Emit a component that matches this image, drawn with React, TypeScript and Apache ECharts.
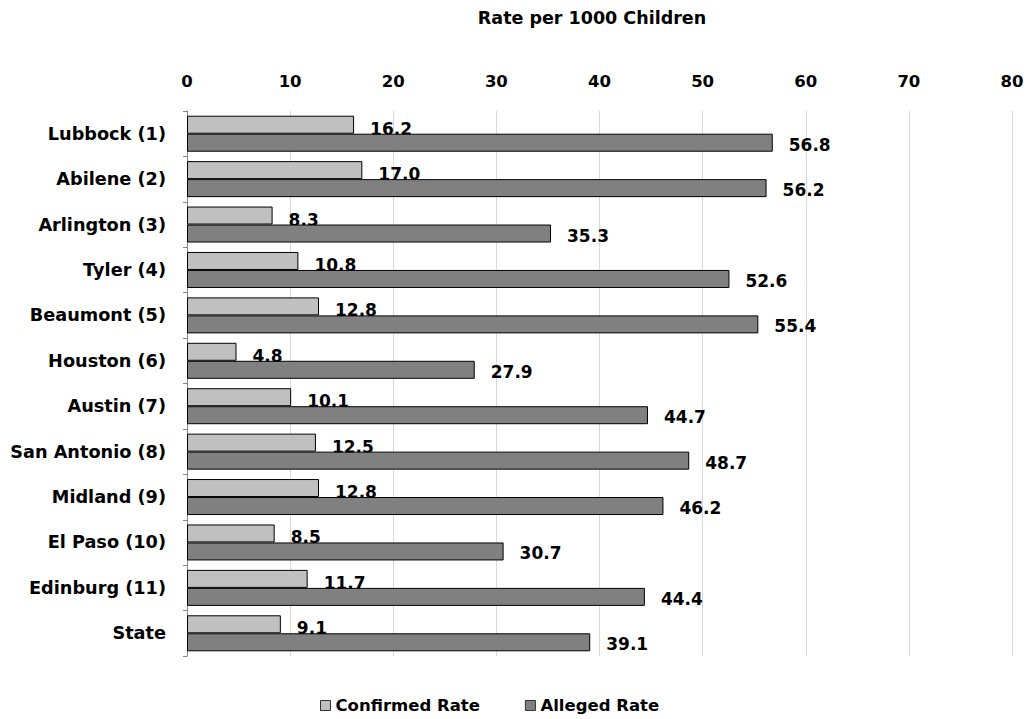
import React, { useEffect, useRef } from "react";
import * as echarts from "echarts";

const categories = [
  "Lubbock (1)",
  "Abilene (2)",
  "Arlington (3)",
  "Tyler (4)",
  "Beaumont (5)",
  "Houston (6)",
  "Austin (7)",
  "San Antonio (8)",
  "Midland (9)",
  "El Paso (10)",
  "Edinburg (11)",
  "State",
];
const confirmedRate = [16.2, 17.0, 8.3, 10.8, 12.8, 4.8, 10.1, 12.5, 12.8, 8.5, 11.7, 9.1];
const allegedRate = [56.8, 56.2, 35.3, 52.6, 55.4, 27.9, 44.7, 48.7, 46.2, 30.7, 44.4, 39.1];
const seriesNames = ["Confirmed Rate", "Alleged Rate"];
const axisTitle = "Rate per 1000 Children";

const FONT = "'DejaVu Sans', sans-serif";

export default function App() {
  const ref = useRef<HTMLDivElement>(null);
  useEffect(() => {
    document.body.style.margin = "0";
    const chart = echarts.init(ref.current!, null, { renderer: "svg" });
    const labelStyle = (dy: number) => ({
      show: true,
      position: "right" as const,
      distance: 16,
      offset: [0, dy],
      color: "#000",
      fontFamily: FONT,
      fontWeight: "bold" as const,
      fontSize: 17,
      formatter: (p: any) => Number(p.value).toFixed(1),
    });
    chart.setOption({
      animation: false,
      backgroundColor: "#fff",
      textStyle: { fontFamily: FONT },
      graphic: [
        {
          type: "text",
          x: 592,
          y: 18,
          style: {
            text: axisTitle,
            fontFamily: FONT,
            fontWeight: "bold",
            fontSize: 17.5,
            fill: "#000",
            textAlign: "center",
            textVerticalAlign: "middle",
          },
        },
      ],
      legend: {
        top: 692,
        left: 315,
        itemWidth: 10,
        itemHeight: 10,
        itemGap: 45,
        icon: "rect",
        itemStyle: { borderColor: "#333", borderWidth: 1 },
        textStyle: { fontFamily: FONT, fontWeight: "bold", fontSize: 16.5, color: "#000" },
        data: seriesNames,
      },
      grid: { left: 187, right: 23, top: 111, bottom: 63, containLabel: false },
      xAxis: {
        type: "value",
        position: "top",
        min: 0,
        max: 80,
        interval: 10,
        axisLine: { show: false },
        axisTick: { show: false },
        splitLine: { show: true, lineStyle: { color: "#d9d9d9", width: 1 } },
        axisLabel: {
          margin: 21,
          color: "#000",
          fontFamily: FONT,
          fontWeight: "bold",
          fontSize: 16.5,
        },
      },
      yAxis: {
        type: "category",
        inverse: true,
        data: categories,
        axisLine: { show: true, lineStyle: { color: "#868686", width: 1 } },
        axisTick: { show: true, length: 4, lineStyle: { color: "#868686" } },
        axisLabel: {
          margin: 21,
          color: "#000",
          fontFamily: FONT,
          fontWeight: "bold",
          fontSize: 17.7,
        },
      },
      series: [
        {
          name: seriesNames[0],
          type: "bar",
          z: 2,
          data: confirmedRate,
          barWidth: 18,
          barGap: "0%",
          itemStyle: { color: "#c0c0c0", borderColor: "#000", borderWidth: 1 },
          label: labelStyle(4),
        },
        {
          name: seriesNames[1],
          type: "bar",
          z: 3,
          data: allegedRate,
          barWidth: 18,
          barGap: "0%",
          itemStyle: { color: "#808080", borderColor: "#000", borderWidth: 1 },
          label: labelStyle(2),
        },
      ],
    });
    return () => chart.dispose();
  }, []);
  return <div ref={ref} style={{ width: 1035, height: 719 }} />;
}
